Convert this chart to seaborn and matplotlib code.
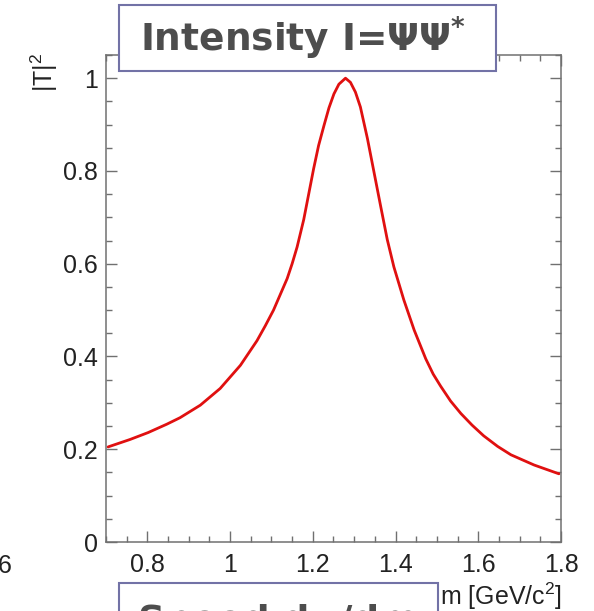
import matplotlib
matplotlib.use("Agg")
import matplotlib.pyplot as plt
import matplotlib.patches as mpatches
from matplotlib.ticker import FixedLocator, FixedFormatter, MultipleLocator
import seaborn as sns
import pandas as pd

# ---- data ----
mass = [0.705, 0.758, 0.802, 0.847, 0.879, 0.928, 0.976, 1.025, 1.065, 1.085,
        1.105, 1.138, 1.150, 1.162, 1.178, 1.190, 1.202, 1.214, 1.227, 1.239,
        1.251, 1.263, 1.279, 1.291, 1.303, 1.315, 1.332, 1.348, 1.364, 1.380,
        1.396, 1.420, 1.445, 1.473, 1.491, 1.509, 1.533, 1.558, 1.585, 1.613,
        1.647, 1.679, 1.735, 1.795]
intensity = [0.205, 0.221, 0.236, 0.254, 0.268, 0.295, 0.331, 0.381, 0.434, 0.466,
             0.500, 0.568, 0.600, 0.636, 0.695, 0.750, 0.805, 0.855, 0.898, 0.936,
             0.966, 0.987, 1.000, 0.991, 0.970, 0.938, 0.870, 0.797, 0.724, 0.652,
             0.593, 0.522, 0.457, 0.395, 0.362, 0.336, 0.304, 0.277, 0.252, 0.229,
             0.206, 0.188, 0.166, 0.147]

x_ticks = [0.8, 1.0, 1.2, 1.4, 1.6, 1.8]
x_tick_labels = ["0.8", "1", "1.2", "1.4", "1.6", "1.8"]
y_ticks = [0.0, 0.2, 0.4, 0.6, 0.8, 1.0]
y_tick_labels = ["0", "0.2", "0.4", "0.6", "0.8", "1"]

x_label = "m [GeV/c$^2$]"
y_label = "|T|$^2$"
top_title = "Intensity I=ΨΨ$^{\\mathbf{*}}$"
bottom_title = "Speed dφ/dm"

df = pd.DataFrame({"m": mass, "I": intensity})

sns.set_theme(style="ticks")
plt.rcParams["font.family"] = ["Liberation Sans", "DejaVu Sans"]
plt.rcParams["mathtext.fontset"] = "custom"
plt.rcParams["mathtext.rm"] = "Liberation Sans"
plt.rcParams["mathtext.it"] = "Liberation Sans"
plt.rcParams["mathtext.bf"] = "DejaVu Sans:bold"

W, H = 594, 611
fig = plt.figure(figsize=(W / 100, H / 100), dpi=100)
ax = fig.add_axes([106 / W, 1 - 542 / H, (561 - 106) / W, (542 - 55) / H])

sns.lineplot(data=df, x="m", y="I", ax=ax, color="#e01010", linewidth=2.0, sort=False)

ax.set_xlim(0.7, 1.8)
ax.set_ylim(0, 1.05)
ax.xaxis.set_major_locator(FixedLocator(x_ticks))
ax.xaxis.set_major_formatter(FixedFormatter(x_tick_labels))
ax.yaxis.set_major_locator(FixedLocator(y_ticks))
ax.yaxis.set_major_formatter(FixedFormatter(y_tick_labels))
ax.xaxis.set_minor_locator(MultipleLocator(0.05))
ax.yaxis.set_minor_locator(MultipleLocator(0.05))
ax.set_xlabel("")
ax.set_ylabel("")

spine_col = "#707070"
for s in ax.spines.values():
    s.set_visible(True)
    s.set_color(spine_col)
    s.set_linewidth(1.1)
ax.tick_params(which="both", direction="in", top=True, right=True, colors=spine_col,
               labelcolor="#222222", width=1.0)
ax.tick_params(which="major", length=8, labelsize=18)
ax.tick_params(axis="x", which="major", pad=8)
ax.tick_params(axis="y", which="major", pad=6)
ax.tick_params(which="minor", length=4.3)

# axis labels
fig.text(562 / W, 1 - 596 / H, x_label, ha="right", va="center", fontsize=18, color="#222222")
fig.text(44 / W, 1 - 72 / H, y_label, ha="center", va="center", rotation=90,
         fontsize=18, color="#222222")
# cut-off label of a neighbouring panel
fig.text(-2 / W, 1 - 566 / H, "6", ha="left", va="center", fontsize=18, color="#222222")

box_col = "#7272a6"
# top title box
fig.patches.append(mpatches.Rectangle((119 / W, 1 - 71 / H), (496 - 119) / W, (71 - 5) / H,
                                      transform=fig.transFigure, facecolor="white",
                                      edgecolor=box_col, linewidth=1.5, zorder=5))
fig.text(140 / W, 1 - 38 / H, top_title, ha="left", va="center", fontsize=27,
         fontweight="bold", color="#4d4d4d", family=["DejaVu Sans"], zorder=6)
# bottom title box (cut off by the figure edge)
fig.patches.append(mpatches.Rectangle((119 / W, -20 / H), (438 - 119) / W, (611 - 583 + 20) / H,
                                      transform=fig.transFigure, facecolor="white",
                                      edgecolor=box_col, linewidth=1.5, zorder=5))
fig.text(138 / W, 1 - 622 / H, bottom_title, ha="left", va="center", fontsize=27,
         fontweight="bold", color="#4d4d4d", family=["DejaVu Sans"], zorder=6)

fig.savefig("out.png", dpi=100)
